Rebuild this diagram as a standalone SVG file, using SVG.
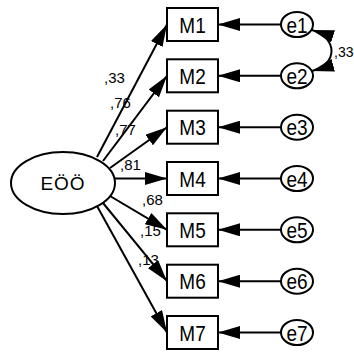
<svg xmlns="http://www.w3.org/2000/svg" width="354" height="352" viewBox="0 0 354 352">
<defs>
<marker id="ah" viewBox="0 0 22 13" markerWidth="22" markerHeight="13" refX="22" refY="6.5" orient="auto-start-reverse" markerUnits="userSpaceOnUse">
<path d="M0,0 L22,6.5 L0,13 z" fill="#000"/>
</marker>
<style>
.box{fill:#fff;stroke:#000;stroke-width:2}
.err{fill:#fff;stroke:#000;stroke-width:2}
.lat{fill:#fff;stroke:#000;stroke-width:2}
.lbl{font-family:"Liberation Sans",Arial,sans-serif;font-size:19px;fill:#000;text-anchor:middle}
.coef{font-family:"Liberation Sans",Arial,sans-serif;font-size:15px;fill:#000}
.path{stroke:#000;stroke-width:2;fill:none;marker-end:url(#ah)}
</style>
</defs>
<rect width="354" height="352" fill="#fff"/>
<g id="connectors">
<line class="path" x1="97" y1="157" x2="167" y2="24.5"/>
<line class="path" x1="103" y1="161" x2="167" y2="75.8"/>
<line class="path" x1="110" y1="168" x2="167" y2="127.2"/>
<line class="path" x1="114.5" y1="178.5" x2="167" y2="178.5"/>
<line class="path" x1="110" y1="196" x2="167" y2="229.8"/>
<line class="path" x1="103" y1="203" x2="167" y2="281.2"/>
<line class="path" x1="97" y1="206" x2="167" y2="332.5"/>
<line class="path" x1="281" y1="24.5" x2="218" y2="24.5"/>
<line class="path" x1="281" y1="75.8" x2="218" y2="75.8"/>
<line class="path" x1="281" y1="127.2" x2="218" y2="127.2"/>
<line class="path" x1="281" y1="178.5" x2="218" y2="178.5"/>
<line class="path" x1="281" y1="229.8" x2="218" y2="229.8"/>
<line class="path" x1="281" y1="281.2" x2="218" y2="281.2"/>
<line class="path" x1="281" y1="332.5" x2="218" y2="332.5"/>
<path class="path" d="M312,30 C338,38 338,64 312,71" style="marker-start:url(#ah)"/>
<text class="coef" x="104" y="83">,33</text>
<text class="coef" x="110" y="108">,76</text>
<text class="coef" x="115" y="135">,77</text>
<text class="coef" x="120" y="170">,81</text>
<text class="coef" x="142" y="205">,68</text>
<text class="coef" x="140" y="236">,15</text>
<text class="coef" x="138" y="265">,13</text>
<text class="coef" x="334" y="57" style="font-size:14px">,33</text>
</g>
<g id="EOO"><ellipse class="lat" cx="63" cy="183" rx="52" ry="31"/><text class="lbl" x="63" y="190" style="letter-spacing:1px">EÖÖ</text></g>
<g id="M1"><rect class="box" x="167" y="8" width="51" height="33"/><text class="lbl" transform="translate(192.5,32.7) scale(1,1.2)">M1</text></g>
<g id="M2"><rect class="box" x="167" y="59.3" width="51" height="33"/><text class="lbl" transform="translate(192.5,84) scale(1,1.2)">M2</text></g>
<g id="M3"><rect class="box" x="167" y="110.7" width="51" height="33"/><text class="lbl" transform="translate(192.5,135.4) scale(1,1.2)">M3</text></g>
<g id="M4"><rect class="box" x="167" y="162" width="51" height="33"/><text class="lbl" transform="translate(192.5,186.7) scale(1,1.2)">M4</text></g>
<g id="M5"><rect class="box" x="167" y="213.3" width="51" height="33"/><text class="lbl" transform="translate(192.5,238) scale(1,1.2)">M5</text></g>
<g id="M6"><rect class="box" x="167" y="264.7" width="51" height="33"/><text class="lbl" transform="translate(192.5,289.4) scale(1,1.2)">M6</text></g>
<g id="M7"><rect class="box" x="167" y="316" width="51" height="33"/><text class="lbl" transform="translate(192.5,340.7) scale(1,1.2)">M7</text></g>
<g id="e1"><ellipse class="err" cx="297" cy="24.5" rx="16" ry="12.5"/><text class="lbl" transform="translate(297,32.5) scale(1,1.2)">e1</text></g>
<g id="e2"><ellipse class="err" cx="297" cy="75.8" rx="16" ry="12.5"/><text class="lbl" transform="translate(297,83.8) scale(1,1.2)">e2</text></g>
<g id="e3"><ellipse class="err" cx="297" cy="127.2" rx="16" ry="12.5"/><text class="lbl" transform="translate(297,135.2) scale(1,1.2)">e3</text></g>
<g id="e4"><ellipse class="err" cx="297" cy="178.5" rx="16" ry="12.5"/><text class="lbl" transform="translate(297,186.5) scale(1,1.2)">e4</text></g>
<g id="e5"><ellipse class="err" cx="297" cy="229.8" rx="16" ry="12.5"/><text class="lbl" transform="translate(297,237.8) scale(1,1.2)">e5</text></g>
<g id="e6"><ellipse class="err" cx="297" cy="281.2" rx="16" ry="12.5"/><text class="lbl" transform="translate(297,289.2) scale(1,1.2)">e6</text></g>
<g id="e7"><ellipse class="err" cx="297" cy="332.5" rx="16" ry="12.5"/><text class="lbl" transform="translate(297,340.5) scale(1,1.2)">e7</text></g>
</svg>
